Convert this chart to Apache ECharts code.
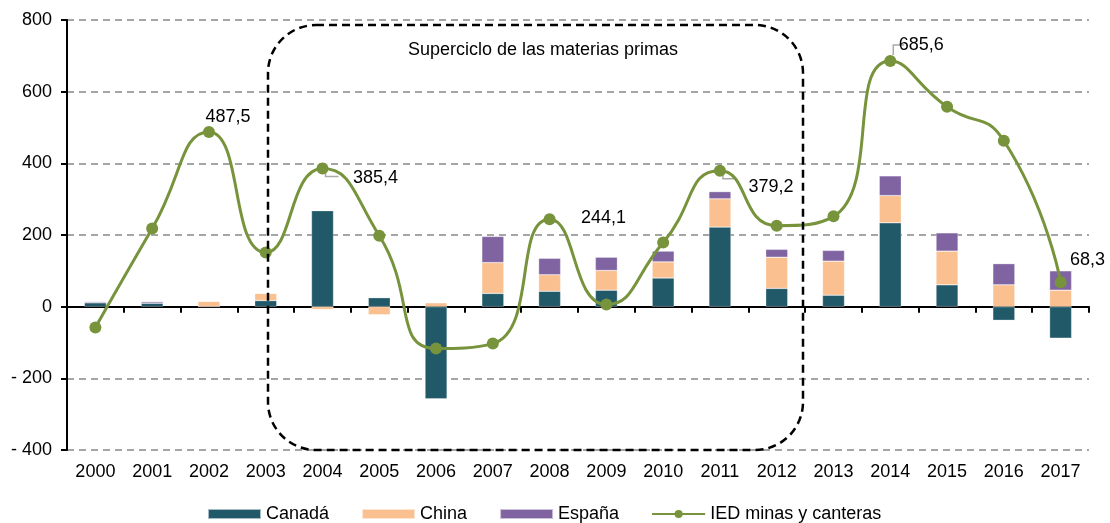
<!DOCTYPE html>
<html>
<head>
<meta charset="utf-8">
<script src="https://cdn.jsdelivr.net/npm/echarts@6/dist/echarts.min.js"></script>
<style>
  html, body { margin: 0; padding: 0; background: #fff; }
  #chart { width: 1110px; height: 523px; }
</style>
</head>
<body>
<div id="chart"></div>
<script>
const years = ['2000', '2001', '2002', '2003', '2004', '2005', '2006', '2007', '2008',
  '2009', '2010', '2011', '2012', '2013', '2014', '2015', '2016', '2017']
const canada = [11, 10, 0, 17, 268, 25, -257, 37, 43, 46, 80, 222, 51, 32, 234, 61, -38, -88]
const china = [0, 0, 15, 20, -8, -23, 11, 86, 46, 55, 45, 79, 87, 95, 76, 94, 61, 46]
const espana = [3, 4, 0, 0, 0, 0, 0, 73, 46, 37, 30, 20, 22, 30, 55, 51, 59, 54]
const ied = [-58, 218, 487.5, 151, 385.4, 198, -117, -103, 244.1, 6, 179, 379.2, 226, 252, 685.6, 558, 463, 68.3]
const labelled = ['2002', '2004', '2008', '2011', '2014', '2017']

const font = 'Liberation Sans, Arial, sans-serif'
const fmt = v => v.toFixed(1).replace('.', ',')

// label centre offset from its point
const labelOffsets = {
  '2002': [19, -15],
  '2004': [53, 9],
  '2008': [54, -1],
  '2011': [51, 16],
  '2014': [31, -16],
  '2017': [27, -22]
}

const iedData = ied.map((v, i) => {
  const y = years[i]
  if (labelled.indexOf(y) < 0) return v
  return {
    value: v,
    label: {
      show: true,
      position: 'inside',
      offset: labelOffsets[y],
      formatter: p => fmt(p.value)
    }
  }
})

const chart = echarts.init(document.getElementById('chart'))

const barSeries = (name, data, color) => ({
  name: name,
  type: 'bar',
  stack: 'paises',
  barWidth: 22,
  itemStyle: { color: color, borderColor: 'rgba(255,255,255,0.6)', borderWidth: 0.5 },
  data: data
})

chart.setOption({
  animation: false,
  textStyle: { fontFamily: font },
  grid: { left: 67, right: 21, top: 20, bottom: 73, containLabel: false, outerBoundsMode: 'none' },
  legend: {
    top: 500,
    left: 202,
    itemGap: 32,
    itemWidth: 53,
    itemHeight: 10,
    textStyle: { fontSize: 18, color: '#000', fontFamily: font },
    data: [
      { name: 'Canadá', icon: 'rect' },
      { name: 'China', icon: 'rect' },
      { name: 'España', icon: 'rect' },
      { name: 'IED minas y canteras' }
    ]
  },
  xAxis: [
    {
      // labels along the bottom edge
      type: 'category',
      data: years,
      position: 'bottom',
      axisLine: { show: false, onZero: false },
      axisTick: { show: false },
      axisLabel: { color: '#000', fontSize: 18, margin: 13 }
    },
    {
      // the zero line with its ticks
      type: 'category',
      data: years,
      position: 'bottom',
      axisLine: { show: true, onZero: true, onZeroAxisIndex: 0, lineStyle: { color: '#000', width: 2 } },
      axisTick: { show: true, length: 6, lineStyle: { color: '#000', width: 2 } },
      axisLabel: { show: false }
    }
  ],
  yAxis: {
    type: 'value',
    min: -400,
    max: 800,
    interval: 200,
    axisLine: { show: true, lineStyle: { color: '#000', width: 2 } },
    axisTick: { show: true, length: 6, lineStyle: { color: '#000', width: 2 } },
    axisLabel: {
      color: '#000',
      fontSize: 18,
      margin: 15,
      formatter: v => v < 0 ? '- ' + Math.abs(v) : String(v)
    },
    splitLine: { show: true, lineStyle: { color: '#888', type: [7, 5], width: 1.5 } }
  },
  series: [
    barSeries('Canadá', canada, '#215968'),
    barSeries('China', china, '#FAC090'),
    barSeries('España', espana, '#8064A2'),
    {
      name: 'IED minas y canteras',
      type: 'line',
      smooth: 0.55,
      symbol: 'circle',
      symbolSize: 12,
      z: 5,
      lineStyle: { color: '#77933C', width: 3 },
      itemStyle: { color: '#77933C' },
      label: { color: '#000', fontSize: 18, fontFamily: font },
      data: iedData
    }
  ]
})

// small grey leader lines next to some labels
const leaderShape = {
  '2004': [[3, 0], [3, 8], [16, 8]],
  '2011': [[3, 0], [3, 8], [16, 8]],
  '2014': [[3, -6], [3, -16], [14, -16]]
}
const leaders = Object.keys(leaderShape).map(y => {
  const i = years.indexOf(y)
  const p = chart.convertToPixel({ seriesIndex: 3 }, [i, ied[i]])
  return {
    type: 'polyline',
    shape: { points: leaderShape[y].map(d => [p[0] + d[0], p[1] + d[1]]) },
    style: { stroke: '#aaa', lineWidth: 1.5, fill: 'none' },
    z: 4
  }
})

chart.setOption({
  graphic: [
    {
      type: 'rect',
      shape: { x: 268, y: 25, width: 535, height: 425, r: 48 },
      style: { fill: 'none', stroke: '#000', lineWidth: 2.5, lineDash: [8, 5] },
      z: 10
    },
    {
      type: 'text',
      x: 543,
      y: 50,
      style: {
        text: 'Superciclo de las materias primas',
        fill: '#000',
        font: '18px ' + font,
        align: 'center',
        verticalAlign: 'middle'
      },
      z: 10
    }
  ].concat(leaders)
})
</script>
</body>
</html>
